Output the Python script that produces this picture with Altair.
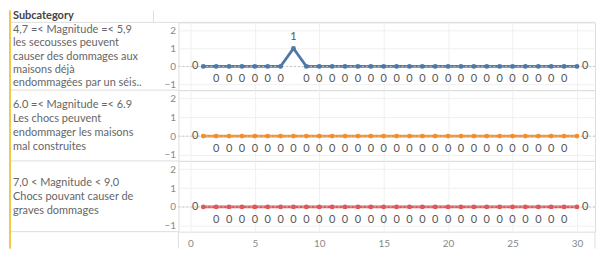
import altair as alt
import pandas as pd

categories = [
    "4,7 =< Magnitude =< 5,9|les secousses peuvent|causer des dommages aux|maisons déjà|endommagées par un séis..",
    "6.0 =< Magnitude =< 6.9|Les chocs peuvent|endommager les maisons|mal construites",
    "7,0 < Magnitude < 9,0|Chocs pouvant causer de|graves dommages",
]
days = list(range(1, 31))
values_row1 = [0, 0, 0, 0, 0, 0, 0, 1, 0, 0, 0, 0, 0, 0, 0, 0, 0, 0, 0, 0, 0, 0, 0, 0, 0, 0, 0, 0, 0, 0]
values_row2 = [0, 0, 0, 0, 0, 0, 0, 0, 0, 0, 0, 0, 0, 0, 0, 0, 0, 0, 0, 0, 0, 0, 0, 0, 0, 0, 0, 0, 0, 0]
values_row3 = [0, 0, 0, 0, 0, 0, 0, 0, 0, 0, 0, 0, 0, 0, 0, 0, 0, 0, 0, 0, 0, 0, 0, 0, 0, 0, 0, 0, 0, 0]
colors = ["#4e79a7", "#f28e2b", "#e15759"]
x_ticks = [0, 5, 10, 15, 20, 25, 30]
y_ticks = [-1, 0, 1, 2]
header_title = "Subcategory"

FONT = "Lato"
LINE_C = "#dedede"
GRID_C = "#f0f0f0"
W = 418
HDR = -170
FS = 11


def make_row(cat, vals, color, height, lh, first, last):
    df = pd.DataFrame({"day": days, "value": vals})
    hdr = pd.DataFrame({"cat": [cat]})
    n_lines = len(cat.split("|"))

    x_scale = alt.Scale(domain=[-0.93, 31.4], nice=False, zero=False)
    x_axis = alt.Axis(values=x_ticks, title=None, ticks=False, domain=False,
                      labels=last, labelColor="#888", labelFont=FONT, labelFontSize=10,
                      labelPadding=7, grid=True, gridColor=GRID_C)
    y_scale = alt.Scale(domain=[-1.32, 2.45], nice=False, zero=False)
    y_axis = alt.Axis(values=y_ticks, title=None, ticks=False, domain=False,
                      labelColor="#888", labelFont=FONT, labelFontSize=10,
                      labelPadding=3, labelOverlap=False, labelFlush=False,
                      grid=True, gridColor=GRID_C)
    x_enc = alt.X("day:Q", scale=x_scale, axis=x_axis)
    y_enc = alt.Y("value:Q", scale=y_scale, axis=y_axis)

    line = alt.Chart(df).mark_line(strokeWidth=2.7, color=color).encode(x=x_enc, y=y_enc)
    zero = alt.Chart(hdr).mark_rule(strokeDash=[2, 2], color="#c4c4c4", strokeWidth=1).encode(
        y=alt.YDatum(0, type="quantitative", scale=y_scale, axis=y_axis)
    )
    pts = alt.Chart(df).mark_circle(size=24, opacity=1, color=color).encode(x=x_enc, y=y_enc)

    def label_layer(cond, **kw):
        return (
            alt.Chart(df)
            .transform_calculate(
                pos="datum.day == 1 ? 'left' : (datum.day == 30 ? 'right' : (datum.value > 0 ? 'above' : 'below'))"
            )
            .transform_filter(cond)
            .mark_text(font=FONT, fontSize=11, color="#555", **kw)
            .encode(x=x_enc, y=y_enc, text=alt.Text("value:Q"))
        )

    t_below = label_layer("datum.pos == 'below'", dy=13)
    t_above = label_layer("datum.pos == 'above'", dy=-11)
    t_left = label_layer("datum.pos == 'left'", dx=-5, align="right")
    t_right = label_layer("datum.pos == 'right'", dx=5, align="left")

    text_top = height / 2 - n_lines * lh / 2 + (lh - FS) / 2
    header_text = (
        alt.Chart(hdr)
        .transform_calculate(lines="split(datum.cat, '|')")
        .mark_text(align="left", baseline="top", lineHeight=lh, font=FONT,
                   fontSize=FS, color="#666")
        .encode(x=alt.value(HDR + 4), y=alt.value(text_top), text="lines:N")
    )
    sep_bottom = alt.Chart(hdr).mark_rule(color=LINE_C).encode(
        x=alt.value(HDR), x2=alt.value(0), y=alt.value(height)
    )
    layers = [line, zero, pts, t_below, t_above, t_left, t_right, header_text, sep_bottom]

    top = 0
    bottom = height
    if first:
        top = -12
        layers.append(alt.Chart(hdr).mark_rule(color=LINE_C).encode(
            x=alt.value(HDR), x2=alt.value(W), y=alt.value(0)))
        layers.append(alt.Chart(hdr).mark_text(
            align="left", baseline="middle", font=FONT, fontSize=11,
            fontWeight="bold", color="#444").encode(
            x=alt.value(HDR + 4), y=alt.value(-6), text=alt.value(header_title)))
        layers.append(alt.Chart(hdr).mark_rule(color=LINE_C).encode(
            x=alt.value(-25), y=alt.value(-12), y2=alt.value(0)))
    if last:
        bottom = height + 17
        layers.append(alt.Chart(hdr).mark_rule(color=LINE_C).encode(
            x=alt.value(0), y=alt.value(height), y2=alt.value(bottom)))
        layers.append(alt.Chart(hdr).mark_rule(color=LINE_C).encode(
            x=alt.value(W), y=alt.value(height), y2=alt.value(bottom)))
    layers.append(alt.Chart(hdr).mark_rule(color="#f2c94c", strokeWidth=2).encode(
        x=alt.value(HDR + 1), y=alt.value(top), y2=alt.value(bottom)))

    return alt.layer(*layers).properties(width=W, height=height)


rows = [
    make_row(categories[0], values_row1, colors[0], 68, 13.4, True, False),
    make_row(categories[1], values_row2, colors[1], 71, 14, False, False),
    make_row(categories[2], values_row3, colors[2], 71, 14, False, True),
]

chart = alt.vconcat(*rows, spacing=0, bounds="flush").configure_view(stroke=LINE_C).properties(
    padding={"left": 0, "top": 0, "right": 0, "bottom": 0}
)

chart.save("out.html", embed_options={"renderer": "svg", "actions": False})
